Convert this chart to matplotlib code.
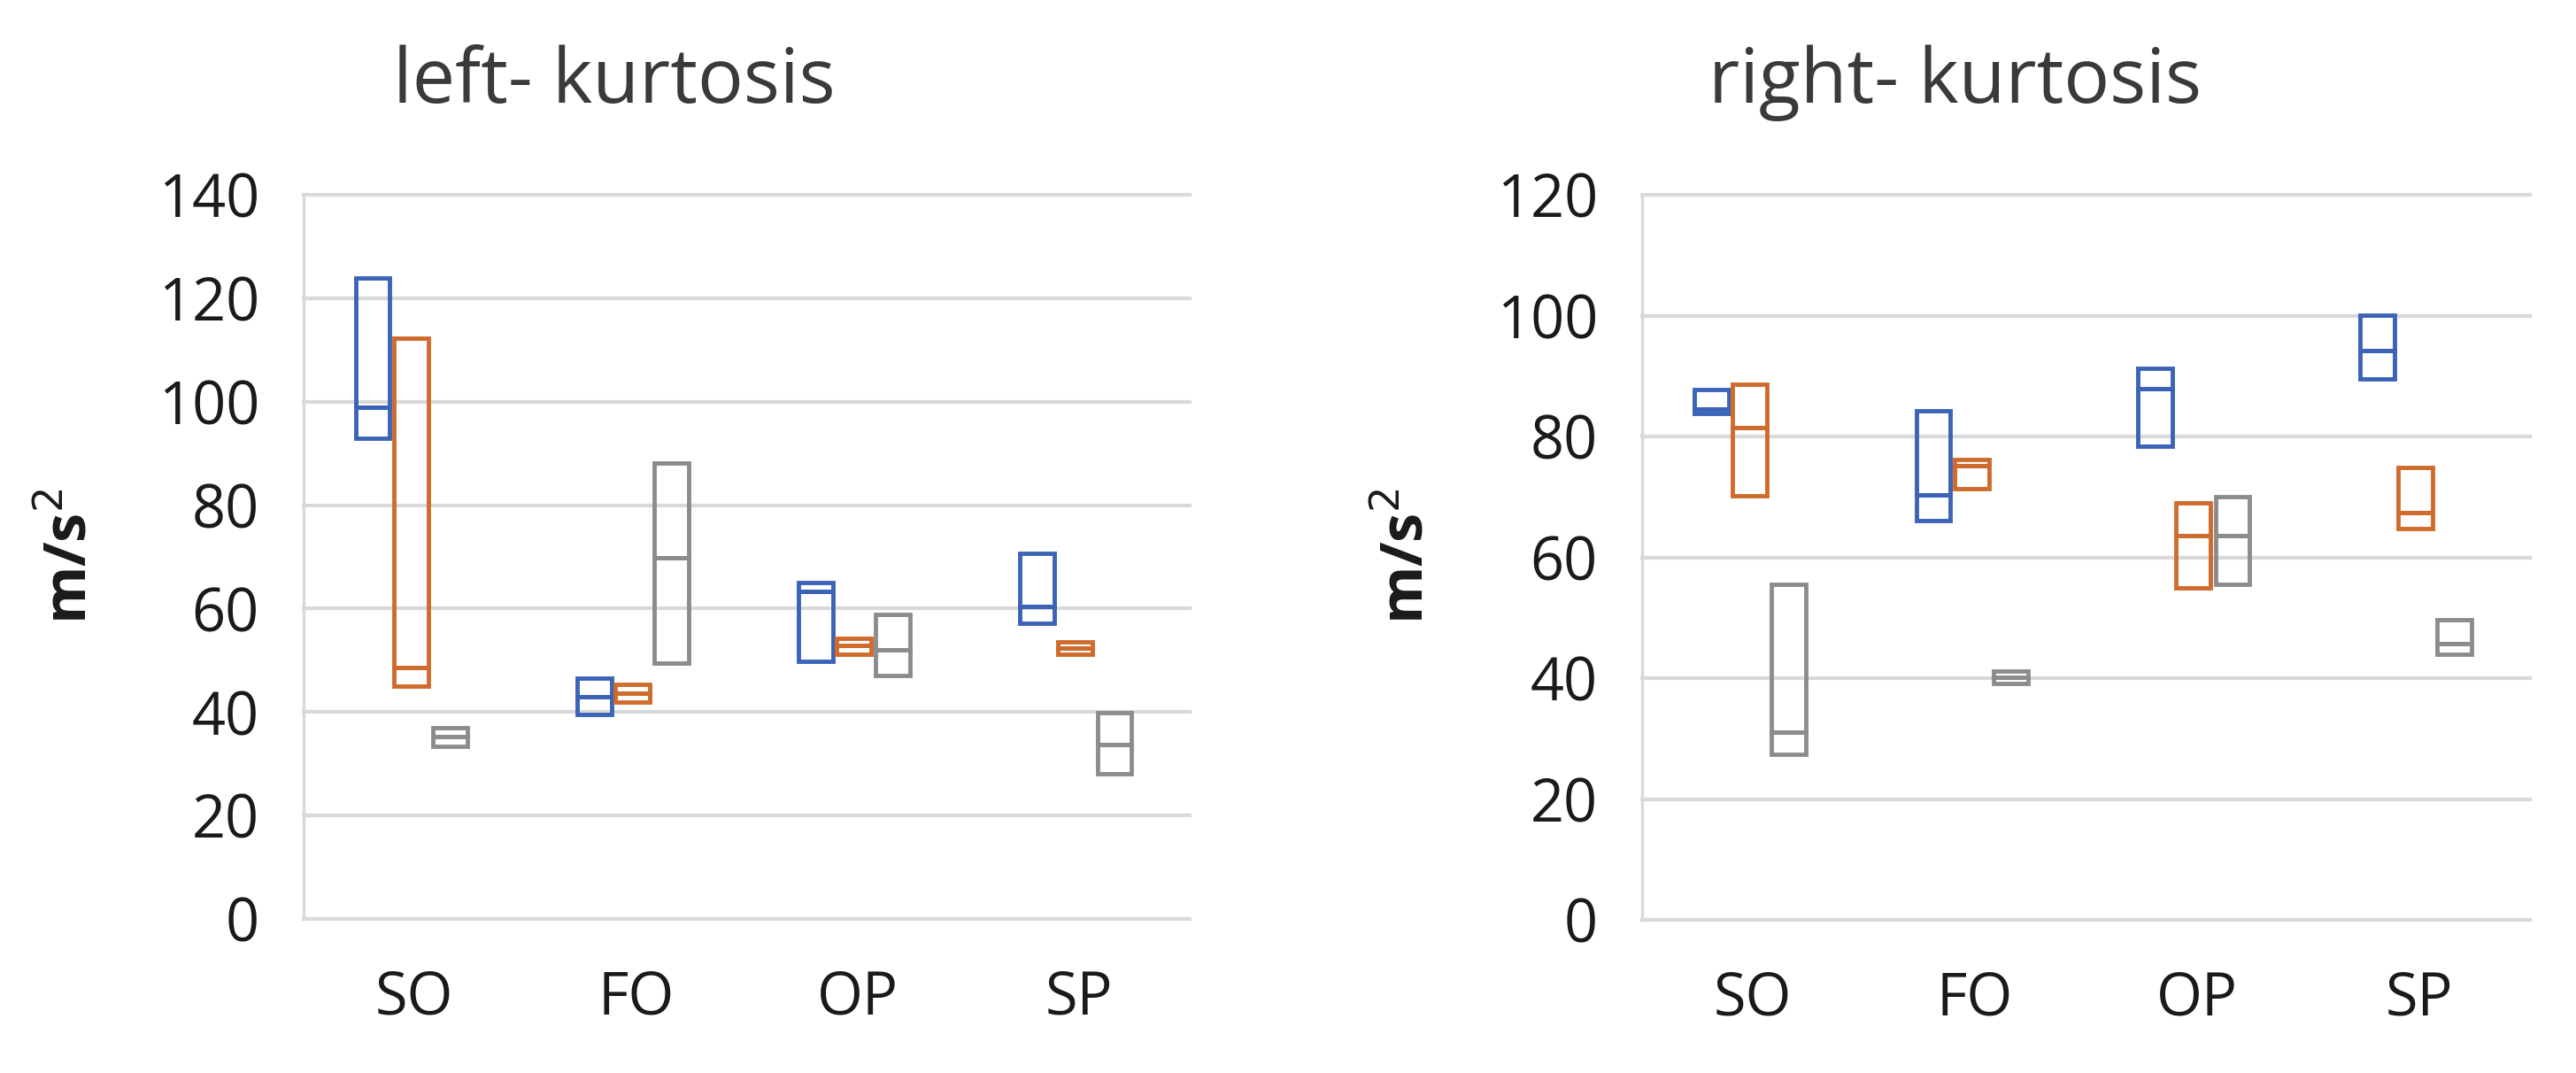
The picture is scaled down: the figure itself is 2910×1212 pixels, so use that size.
import numpy as np
import matplotlib
matplotlib.use("Agg")
import matplotlib.pyplot as plt

plt.rcParams['font.family'] = ['Open Sans', 'DejaVu Sans']

categories = ['SO', 'FO', 'OP', 'SP']
series_colors = ['#3B63B6', '#CF6B2C', '#8C8C8C']

# each box: [bottom, middle line, top] for the 3 series per category
left_blue = [[93.0, 98.9, 123.9], [39.6, 42.9, 46.6], [49.8, 63.3, 65.1], [57.2, 60.4, 70.6]]
left_orange = [[45.0, 48.6, 112.3], [42.0, 43.7, 45.4], [51.2, 52.8, 54.2], [51.2, 52.3, 53.6]]
left_gray = [[33.4, 35.3, 37.0], [49.4, 69.8, 88.2], [47.0, 52.0, 58.8], [28.1, 33.8, 39.9]]

right_blue = [[83.8, 84.6, 87.8], [66.1, 70.4, 84.2], [78.4, 87.9, 91.3], [89.5, 94.2, 100.0]]
right_orange = [[70.2, 81.4, 88.6], [71.4, 75.1, 76.2], [55.0, 63.6, 69.0], [64.8, 67.4, 74.9]]
right_gray = [[27.4, 31.0, 55.6], [39.1, 40.1, 41.1], [55.6, 63.6, 70.1], [43.9, 45.7, 49.7]]

left_ticks = [0, 20, 40, 60, 80, 100, 120, 140]
right_ticks = [0, 20, 40, 60, 80, 100, 120]

offsets = [-0.188, -0.016, 0.16]
box_w = 0.155
grid_c = '#D9D9D9'

fig = plt.figure(figsize=(29.1, 12.12), dpi=100)
ax1 = fig.add_axes([343 / 2910, 1 - 1038 / 1212, 1001 / 2910, 818 / 1212])
ax2 = fig.add_axes([1855 / 2910, 1 - 1039 / 1212, 1003 / 2910, 819 / 1212])


def draw_panel(ax, groups, ticks):
    x = np.arange(len(categories))
    for boxes, off, col in zip(groups, offsets, series_colors):
        arr = np.array(boxes)
        lo, mid, hi = arr[:, 0], arr[:, 1], arr[:, 2]
        ax.bar(x + off, mid - lo, bottom=lo, width=box_w, facecolor='none',
               edgecolor=col, linewidth=3.5, zorder=3)
        ax.bar(x + off, hi - mid, bottom=mid, width=box_w, facecolor='none',
               edgecolor=col, linewidth=3.5, zorder=3)
    for t in ticks:
        ax.axhline(t, color=grid_c, linewidth=3.0, zorder=0, clip_on=False)
    ax.set_xlim(-0.5, len(categories) - 0.5)
    ax.set_ylim(ticks[0], ticks[-1])
    ax.set_yticks(ticks)
    ax.set_xticks(x)
    ax.set_xticklabels(categories)
    for s in ['top', 'right', 'bottom']:
        ax.spines[s].set_visible(False)
    ax.spines['left'].set_color(grid_c)
    ax.spines['left'].set_linewidth(2.4)
    ax.tick_params(axis='both', length=0, labelsize=48, colors='#1a1a1a')
    ax.tick_params(axis='y', pad=36)
    ax.tick_params(axis='x', pad=40)


draw_panel(ax1, [left_blue, left_orange, left_gray], left_ticks)
draw_panel(ax2, [right_blue, right_orange, right_gray], right_ticks)

fig.text(694 / 2910, 1 - 116 / 1212, 'left- kurtosis', ha='center', va='baseline',
         fontsize=62, color='#3a3a3a')
fig.text(2208 / 2910, 1 - 116 / 1212, 'right- kurtosis', ha='center', va='baseline',
         fontsize=62, color='#3a3a3a')

fig.text(80 / 2910, 1 - 628 / 1212, 'm/s$^2$', ha='center', va='center', rotation=90,
         fontsize=48, fontweight='bold', color='#1a1a1a')
fig.text(1590 / 2910, 1 - 628 / 1212, 'm/s$^2$', ha='center', va='center', rotation=90,
         fontsize=48, fontweight='bold', color='#1a1a1a')

fig.savefig('out.png', dpi=100, facecolor='white')
